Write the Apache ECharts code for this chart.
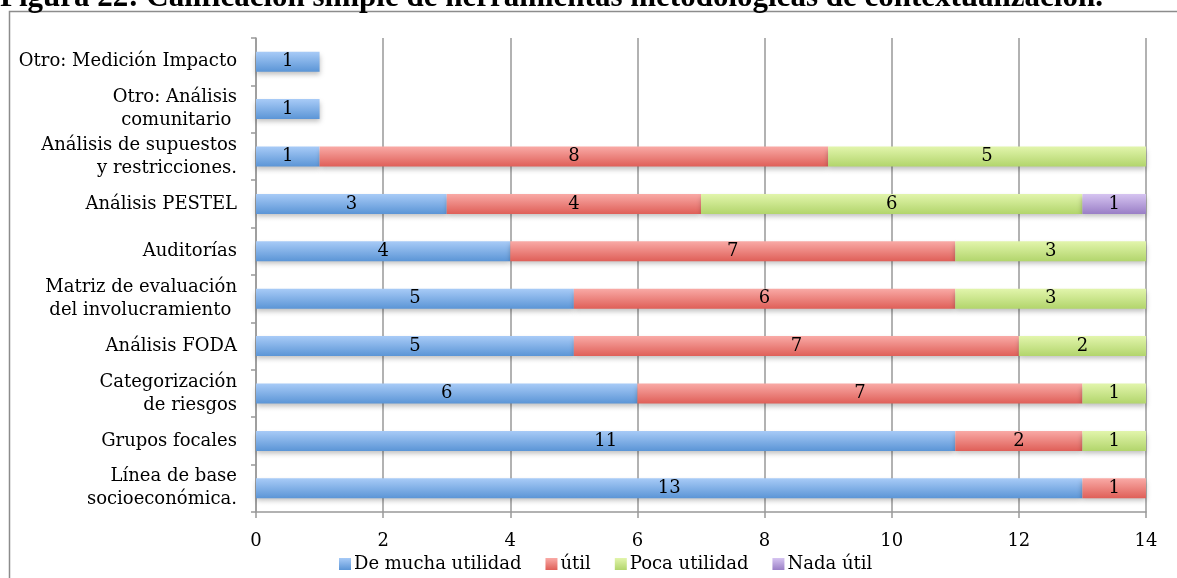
<!DOCTYPE html>
<html><head><meta charset="utf-8">
<script src="https://cdn.jsdelivr.net/npm/echarts@6/dist/echarts.min.js"></script>
<style>html,body{margin:0;padding:0;background:#fff}#c{width:1177px;height:578px}</style>
</head><body><div id="c"></div>
<script>
const categories = ["Línea de base\nsocioeconómica.", "Grupos focales", "Categorización\nde riesgos", "Análisis FODA", "Matriz de evaluación\ndel involucramiento ", "Auditorías", "Análisis PESTEL", "Análisis de supuestos\ny restricciones.", "Otro: Análisis\ncomunitario ", "Otro: Medición Impacto"];
const seriesNames = ["De mucha utilidad", "útil", "Poca utilidad", "Nada útil"];
const mucha = [13, 11, 6, 5, 5, 4, 3, 1, 1, 1];
const util = [1, 2, 7, 7, 6, 7, 4, 8, null, null];
const poca = [null, 1, 1, 2, 3, 3, 6, 5, null, null];
const nada = [null, null, null, null, null, null, 1, null, null, null];
const xTicks = [0, 2, 4, 6, 8, 10, 12, 14];

const colors = [["#a8cbf7", "#5b95d6"], ["#f9aaa6", "#df5f58"], ["#e2f5ac", "#b2d56c"], ["#d6c4f1", "#9a7fc6"]];
const font = "'DejaVu Serif', 'Liberation Serif', serif";
const chart = echarts.init(document.getElementById('c'), null, {renderer: 'canvas'});
const data = [mucha, util, poca, nada];
chart.setOption({
  animation: false,
  backgroundColor: '#fff',
  graphic: [
    {type: 'rect', shape: {x: 9.5, y: 11.5, width: 1200, height: 600}, style: {fill: 'none', stroke: '#8c8c8c', lineWidth: 1.5}},
    {type: 'text', x: 0, y: -18, style: {text: 'Figura 22: Calificación simple de herramientas metodológicas de contextualización.', font: 'bold 31px "Liberation Serif", serif', fill: '#000', verticalAlign: 'top'}}
  ],
  grid: {left: 256, right: 31, top: 38, bottom: 66, containLabel: false},
  legend: {
    data: seriesNames, left: 334, top: 550, itemWidth: 12, itemHeight: 12, itemGap: 24,
    icon: 'rect', textStyle: {fontFamily: font, fontSize: 18, color: '#000', padding: [0, 0, 0, -2]}
  },
  xAxis: {
    type: 'value', min: 0, max: 14, interval: 2,
    axisLine: {show: true, lineStyle: {color: '#999', width: 1.5}},
    axisTick: {show: true, length: 6, lineStyle: {color: '#999', width: 1.5}},
    splitLine: {show: true, lineStyle: {color: '#999', width: 1.5}},
    axisLabel: {fontFamily: font, fontSize: 18, color: '#000', margin: 20}
  },
  yAxis: {
    type: 'category', data: categories,
    axisLine: {show: true, lineStyle: {color: '#999', width: 1.5}},
    axisTick: {show: true, length: 5, lineStyle: {color: '#999', width: 1.5}},
    axisLabel: {fontFamily: font, fontSize: 18, color: '#000', margin: 19, lineHeight: 23, align: 'right'}
  },
  series: data.map((d, i) => ({
    name: seriesNames[i], type: 'bar', stack: 'a', data: d, barWidth: 20,
    itemStyle: {
      color: new echarts.graphic.LinearGradient(0, 0, 0, 1, [{offset: 0, color: colors[i][0]}, {offset: 1, color: colors[i][1]}]),
      shadowColor: 'rgba(0,0,0,0.25)', shadowBlur: 5, shadowOffsetY: 3
    },
    label: {show: true, position: 'inside', color: '#000', fontFamily: font, fontSize: 18},
    emphasis: {disabled: true}
  }))
});
</script></body></html>
